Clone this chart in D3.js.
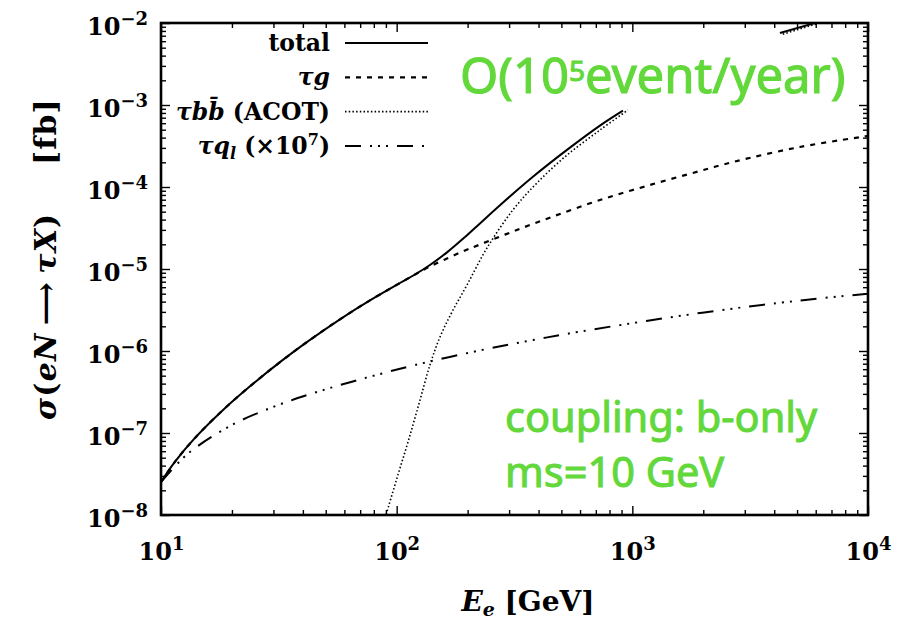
<!DOCTYPE html>
<html>
<head>
<meta charset="utf-8">
<script src="https://cdn.jsdelivr.net/npm/d3@7"></script>
<style>
  body { margin: 0; background: #fff; }
  svg { display: block; }
</style>
</head>
<body>
<svg id="chart" width="903" height="619"></svg>
<script>
// Electron beam energy E_e (GeV) and cross sections sigma(eN -> tau X) (fb)

// total
const eTotal     = [10, 11.47, 13.94, 18.15, 23.86, 31.98, 42.88, 57.46, 77.03, 103.3, 119.6, 138.4, 163.5, 194.9, 225.6, 274.4, 378.6, 528.0, 728.7, 912.3];
const sigmaTotal = [2.525e-8, 4.47e-8, 8.71e-8, 1.86e-7, 3.71e-7, 7.32e-7, 1.366e-6, 2.435e-6, 4.14e-6, 6.75e-6, 8.57e-6, 1.119e-5, 1.594e-5, 2.449e-5, 3.597e-5, 6.0e-5, 1.332e-4, 2.834e-4, 5.61e-4, 8.54e-4];
const eTotalHigh     = [4230, 6100];
const sigmaTotalHigh = [7.55e-3, 1.02e-2];

// tau g
const eTauG     = [10, 11.47, 13.94, 18.15, 23.86, 31.98, 42.88, 57.46, 77.03, 103.3, 119.6, 138.4, 163.5, 194.9, 225.6, 311.4, 460.4, 728.7, 1188, 1936, 2673, 5141, 10000];
const sigmaTauG = [2.525e-8, 4.47e-8, 8.71e-8, 1.86e-7, 3.71e-7, 7.32e-7, 1.366e-6, 2.435e-6, 4.14e-6, 6.75e-6, 8.57e-6, 1.073e-5, 1.343e-5, 1.681e-5, 1.989e-5, 2.866e-5, 4.366e-5, 6.94e-5, 1.058e-4, 1.567e-4, 2.018e-4, 3.075e-4, 4.19e-4];

// tau b bbar (ACOT)
const eTauBB     = [87.5, 90.1, 100.3, 111.7, 124.3, 138.4, 152.7, 171.7, 198.8, 241.6, 311.4, 393.8, 528, 729, 958];
const sigmaTauBB = [7.55e-9, 1e-8, 2.82e-8, 7.76e-8, 2.26e-7, 6.74e-7, 1.48e-6, 2.99e-6, 6.38e-6, 1.80e-5, 5.25e-5, 1.12e-4, 2.45e-4, 4.95e-4, 8.69e-4];
const eTauBBHigh     = [4350, 6200];
const sigmaTauBBHigh = [7.3e-3, 1.0e-2];

// tau q_light, scaled by 10^7
const eTauQ     = [10, 13.02, 20.01, 29.88, 41.65, 57.46, 79.3, 119.6, 225.6, 367.8, 599.4, 1936, 5141, 10000];
const sigmaTauQ = [2.525e-8, 5.61e-8, 1.252e-7, 2.076e-7, 2.90e-7, 3.84e-7, 4.97e-7, 6.75e-7, 1.017e-6, 1.339e-6, 1.724e-6, 2.906e-6, 4.13e-6, 5.0e-6];

// axis ticks
const xMajor = [10, 100, 1000, 10000];
const xExp   = ["1", "2", "3", "4"];
const yMajor = [1e-2, 1e-3, 1e-4, 1e-5, 1e-6, 1e-7, 1e-8];
const yExp   = ["\u22122", "\u22123", "\u22124", "\u22125", "\u22126", "\u22127", "\u22128"];

const serif = "'DejaVu Serif', serif";
const sans = "'Noto Sans', sans-serif";
const green = "#62d83b";

const L = 161, R = 868, T = 23, B = 515;
const x = d3.scaleLog().domain([10, 1e4]).range([L, R]);
const y = d3.scaleLog().domain([1e-8, 1e-2]).range([B, T]);

const svg = d3.select("#chart");
svg.append("defs").append("clipPath").attr("id", "plotclip")
  .append("rect").attr("x", L).attr("y", T).attr("width", R - L).attr("height", B - T);

const zip = (es, ss) => es.map((e, i) => ({ e, s: ss[i] }));
const line = d3.line().x(d => x(d.e)).y(d => y(d.s)).curve(d3.curveCatmullRom.alpha(0.5));

const styles = {
  total: { dash: null, w: 2.0 },
  taug:  { dash: "5,6", w: 2.2 },
  taubb: { dash: "1.5,2.2", w: 1.6 },
  tauq:  { dash: "16,9,2,6,2,6,2,9", w: 2.0 }
};

const curves = [
  { data: zip(eTauBB, sigmaTauBB), st: styles.taubb },
  { data: zip(eTauBBHigh, sigmaTauBBHigh), st: styles.taubb },
  { data: zip(eTauQ, sigmaTauQ), st: styles.tauq },
  { data: zip(eTotal, sigmaTotal), st: styles.total },
  { data: zip(eTotalHigh, sigmaTotalHigh), st: styles.total },
  { data: zip(eTauG, sigmaTauG), st: styles.taug }
];

const plot = svg.append("g").attr("clip-path", "url(#plotclip)");
plot.selectAll("path.curve").data(curves).join("path")
  .attr("class", "curve")
  .attr("d", c => line(c.data))
  .attr("fill", "none")
  .attr("stroke", "#000")
  .attr("stroke-width", c => c.st.w)
  .attr("stroke-dasharray", c => c.st.dash);

// minor tick values (2..9 per decade)
const xMinor = x.ticks(30).filter(v => !xMajor.includes(v));
const yMinor = y.ticks(60).filter(v => !yMajor.some(m => Math.abs(m - v) / m < 1e-9));

function styleAxis(g) {
  g.select(".domain").remove();
  g.selectAll(".tick line").attr("stroke", "#000").attr("stroke-width", 1.4);
}

// minor ticks on all four sides, pointing inward
[
  [d3.axisBottom(x), `translate(0,${B})`, xMinor],
  [d3.axisTop(x), `translate(0,${T})`, xMinor],
  [d3.axisLeft(y), `translate(${L},0)`, yMinor],
  [d3.axisRight(y), `translate(${R},0)`, yMinor]
].forEach(([ax, tr, vals]) => {
  svg.append("g").attr("transform", tr)
    .call(ax.tickValues(vals).tickSize(-5).tickFormat("")).call(styleAxis);
});

// major ticks
const xAxisG = svg.append("g").attr("transform", `translate(0,${B})`)
  .call(d3.axisBottom(x).tickValues(xMajor).tickSize(-9).tickFormat("")).call(styleAxis);
svg.append("g").attr("transform", `translate(0,${T})`)
  .call(d3.axisTop(x).tickValues(xMajor).tickSize(-9).tickFormat("")).call(styleAxis);
const yAxisG = svg.append("g").attr("transform", `translate(${L},0)`)
  .call(d3.axisLeft(y).tickValues(yMajor).tickSize(-9).tickFormat("")).call(styleAxis);
svg.append("g").attr("transform", `translate(${R},0)`)
  .call(d3.axisRight(y).tickValues(yMajor).tickSize(-9).tickFormat("")).call(styleAxis);

function powerLabel(text, exp) {
  text.text(null)
    .attr("font-family", serif).attr("font-weight", "bold").attr("font-size", 24)
    .attr("fill", "#000");
  text.append("tspan").text("10");
  text.append("tspan").attr("dy", -10).attr("font-size", 18).text(exp);
}

xAxisG.selectAll(".tick text").each(function (d, i) {
  const t = d3.select(this).attr("y", 45).attr("dy", 0).attr("text-anchor", "middle");
  powerLabel(t, xExp[i]);
});
yAxisG.selectAll(".tick text").each(function (d, i) {
  const t = d3.select(this).attr("x", -13).attr("y", 11).attr("dy", 0).attr("text-anchor", "end");
  powerLabel(t, yExp[i]);
});

// plot frame
svg.append("rect").attr("x", L).attr("y", T).attr("width", R - L).attr("height", B - T)
  .attr("fill", "none").attr("stroke", "#000").attr("stroke-width", 2.6);

// axis titles
const xt = svg.append("text").attr("x", 528).attr("y", 611).attr("text-anchor", "middle")
  .attr("font-family", serif).attr("font-weight", "bold").attr("font-size", 28);
xt.append("tspan").attr("font-style", "italic").text("E");
xt.append("tspan").attr("font-style", "italic").attr("font-size", 19).attr("dy", 5).text("e");
xt.append("tspan").attr("dy", -5).text(" [GeV]");

const yt = svg.append("text").attr("transform", "translate(56,259) rotate(-90)")
  .attr("text-anchor", "middle").attr("letter-spacing", 1.2)
  .attr("font-family", serif).attr("font-weight", "bold").attr("font-size", 30);
yt.append("tspan").attr("font-style", "italic").text("\u03c3");
yt.append("tspan").text("(");
yt.append("tspan").attr("font-style", "italic").text("eN");
yt.append("tspan").text("\u2009\u27f6\u2009");
yt.append("tspan").attr("font-style", "italic").text("\u03c4X");
yt.append("tspan").text(")\u2003\u2002[fb]");

// legend
const legendRows = [
  { st: styles.total, parts: [["total", "normal"]] },
  { st: styles.taug,  parts: [["\u03c4g", "italic"]] },
  { st: styles.taubb, parts: [["\u03c4bb\u0304", "italic"], [" (ACOT)", "normal"]] },
  { st: styles.tauq,  parts: [["\u03c4q", "italic"], ["l", "italic", "sub"], [" (\u00d710", "normal"], ["7", "normal", "sup"], [")", "normal"]] }
];
const leg = svg.append("g");
legendRows.forEach((row, i) => {
  const cy = 43 + i * 34.3;
  const t = leg.append("text").attr("x", 330).attr("y", cy + 8).attr("text-anchor", "end")
    .attr("font-family", serif).attr("font-weight", "bold").attr("font-size", 23.5);
  let shift = 0;
  row.parts.forEach(p => {
    const ts = t.append("tspan").attr("font-style", p[1]).text(p[0]);
    if (p[2] === "sub") { ts.attr("font-size", 16).attr("dy", 5); shift = 5; }
    else if (p[2] === "sup") { ts.attr("font-size", 16).attr("dy", -shift - 9); shift = -9; }
    else if (shift !== 0) { ts.attr("dy", -shift); shift = 0; }
  });
  leg.append("line").attr("x1", 345).attr("x2", 428).attr("y1", cy).attr("y2", cy)
    .attr("stroke", "#000").attr("stroke-width", row.st.w)
    .attr("stroke-dasharray", row.st.dash);
});

// annotations
const a1 = svg.append("text").attr("x", 460).attr("y", 93)
  .attr("font-family", sans).attr("font-size", 49)
  .attr("fill", green).attr("stroke", green).attr("stroke-width", 1.1);
a1.append("tspan").text("O(10");
a1.append("tspan").attr("font-size", 28).attr("dy", -12).text("5");
a1.append("tspan").attr("dy", 12).text("event/year)");

svg.append("text").attr("x", 505).attr("y", 432)
  .attr("font-family", sans).attr("font-size", 41.5)
  .attr("fill", green).attr("stroke", green).attr("stroke-width", 1)
  .text("coupling: b-only");
svg.append("text").attr("x", 505).attr("y", 487)
  .attr("font-family", sans).attr("font-size", 41.5)
  .attr("fill", green).attr("stroke", green).attr("stroke-width", 1)
  .text("ms=10 GeV");
</script>
</body>
</html>
